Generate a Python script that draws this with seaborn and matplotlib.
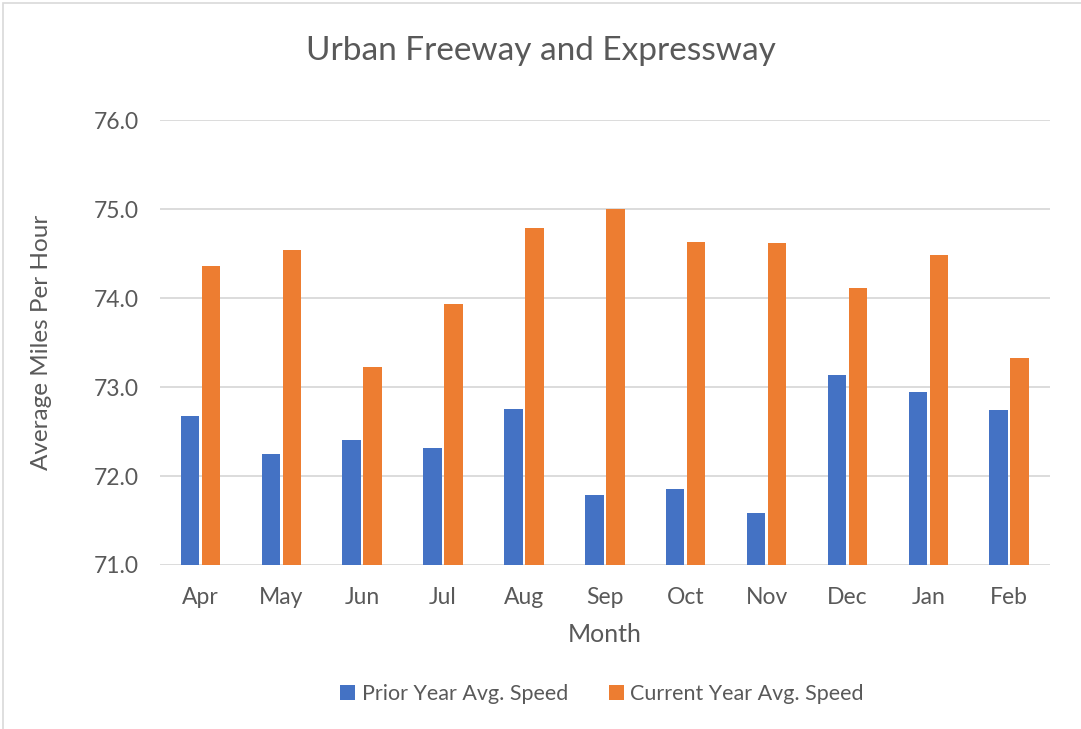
import matplotlib
matplotlib.use("Agg")
import matplotlib.pyplot as plt
import pandas as pd
import seaborn as sns

sns.set_style("white")
plt.rcParams.update({"font.family": ["Lato", "DejaVu Sans"]})

GREY = "#595959"
BLUE, ORANGE = "#4472C4", "#ED7D31"

months = ["Apr", "May", "Jun", "Jul", "Aug", "Sep", "Oct", "Nov", "Dec", "Jan", "Feb"]
prior = [72.68, 72.25, 72.41, 72.32, 72.75, 71.79, 71.85, 71.59, 73.14, 72.95, 72.74]
current = [74.36, 74.54, 73.23, 73.93, 74.79, 75.00, 74.63, 74.62, 74.11, 74.48, 73.33]
series = ["Prior Year Avg. Speed", "Current Year Avg. Speed"]

df = pd.DataFrame({
    "Month": months * 2,
    "Speed": prior + current,
    "Series": [series[0]] * len(months) + [series[1]] * len(months),
})

fig = plt.figure(figsize=(10.81, 7.29), dpi=100)
ax = fig.add_axes([0.148, 0.225, 0.823, 0.61])

sns.barplot(data=df, x="Month", y="Speed", hue="Series", order=months,
            hue_order=series, palette=[BLUE, ORANGE], saturation=1,
            width=0.52, gap=0.12, linewidth=0, ax=ax, legend=True)

ax.set_ylim(71, 76)
ax.set_yticks([71, 72, 73, 74, 75, 76])
ax.set_yticklabels([f"{v:.1f}" for v in ax.get_yticks()])
ax.set_xlim(-0.5, len(months) - 0.5)
ax.yaxis.grid(True, color="#D9D9D9", lw=1.3)
ax.set_axisbelow(True)
for s in ax.spines.values():
    s.set_visible(False)
ax.tick_params(axis="both", length=0, labelsize=16.5, colors=GREY)
ax.tick_params(axis="y", pad=15)
ax.tick_params(axis="x", pad=16)
ax.set_xlabel("Month", fontsize=18, color=GREY, labelpad=11)
ax.set_ylabel("Average Miles Per Hour", fontsize=17.5, color=GREY, labelpad=30)
fig.suptitle("Urban Freeway and Expressway", fontsize=24, color=GREY, y=0.951)

handles, labels = ax.get_legend_handles_labels()
ax.get_legend().remove()
fig.legend(handles, labels, loc="center", bbox_to_anchor=(0.557, 0.048), ncol=2,
           frameon=False, fontsize=15.5, labelcolor=GREY, handlelength=0.7,
           handleheight=0.7, handletextpad=0.3, columnspacing=1.9)

# light chart-area border like the original
fig.patches.append(plt.Rectangle((0.003, -0.01), 1.2, 1.006, transform=fig.transFigure,
                                 fill=False, edgecolor="#D9D9D9", lw=1.2))

fig.savefig("out.png", dpi=100)
